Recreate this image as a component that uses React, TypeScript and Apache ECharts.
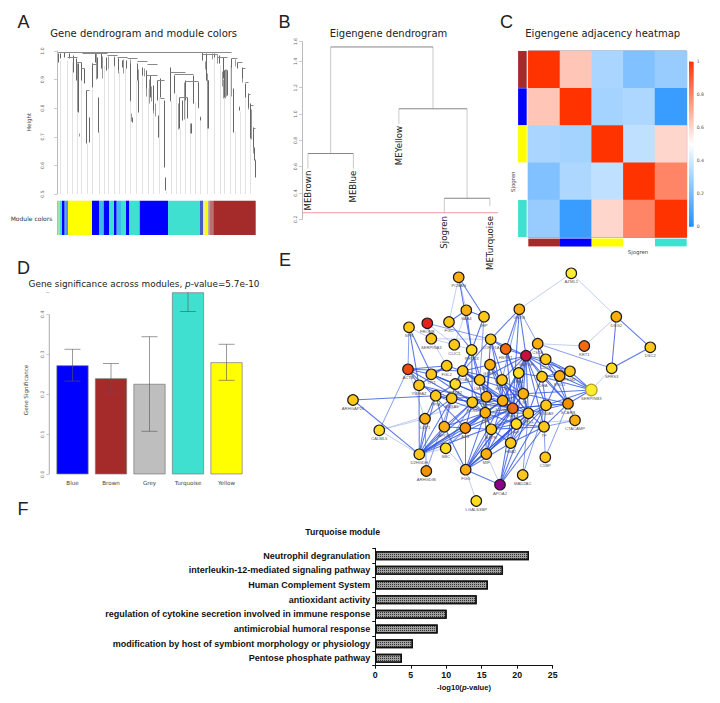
import React, { useEffect, useRef } from "react";
import * as echarts from "echarts";

// ---------- Panel A ----------
const heightTicks = [0.5, 1.0];
const geneStems = [
  [1,.992,.963],[3,.994,.974],[7,.995,.98],[12,.994,.974],[16,.986,.928],[19,.974,.899],[21,.957,.788],[24,.963,.899],
  [27,.939,.887],[29,.864,.677],[32,.77,.683],[35,.957,.875],[38,.992,.963],[40,.98,.904],[41,.84,.718],[44,.992,.939],
  [49,.98,.934],[57,.98,.951],[61,.974,.934],[65,.969,.945],[69,.969,.939],[73,.957,.829],[80,.957,.899],[81,.899,.788],
  [75,.77,.753],[85,.945,.916],[89,.934,.869],[93,.916,.84],[96,.881,.794],[100,.899,.829],[101,.776,.7],[103,.904,.84],
  [107,.829,.596],[108,.561,.514],[113,.945,.829],[117,.916,.852],[122,.84,.73],[125,.829,.759],[128,.899,.829],[130,.84,.765],
  [134,.747,.712],[136,.916,.817],[141,.893,.805],[143,.77,.759],[145,.998,.969],[149,.992,.899],[151,.899,.73],[157,.994,.98],
  [162,.986,.957],[166,.98,.904],[167,.934,.84],[170,.934,.846],[174,.974,.945],[176,.869,.718],[182,.805,.794],[180,.963,.939],
  [185,.945,.904],[188,.887,.84],[191,.852,.805],[193,.817,.695],[196,.735,.666],[197,.666,.619],[198,.619,.561],
];
const geneStemsFine = [
  [35,.959,.919],[39,.994,.901],[45,.983,.907],[51,.983,.942],[57,.983,.948],[61,.977,.924],[66,.971,.924],[73,.971,.825],
  [81,.936,.79],[74,.784,.755],[87,.942,.913],[89,.884,.843],[92,.901,.819],[94,.878,.825],[96,.802,.784],[98,.819,.773],
  [22,.714,.703],[20,.959,.79],[113,.913,.825],[121,.819,.726],[127,.89,.761],[133,.749,.714],[136,.913,.819],[141,.89,.802],
  [143,.773,.761],[148,.965,.936],[150,.924,.732],[145,.994,.971],[155,.994,.971],[160,.988,.959],[165,.93,.878],[168,.936,.837],
  [169,.936,.843],[166,.901,.837],[174,.971,.843],[176,.854,.726],[178,.971,.948],[182,.808,.796],[185,.924,.89],[188,.878,.843],
  [191,.843,.796],[194,.796,.691],[196,.703,.645],[198,.621,.563],
];
const geneMerges = [
  [1,145,.998],[145,174,.995],[1,25,.995],[25,50,.992],[50,60,.986],[60,70,.98],[70,80,.974],[80,90,.965],[90,100,.955],
  [174,180,.975],[180,185,.96],[185,188,.94],[188,191,.89],[191,193,.85],[193,196,.81],[196,198,.73],[19,24,.96],[24,27,.94],
  [29,32,.865],[89,100,.915],[100,107,.9],[103,107,.835],[113,128,.925],[117,136,.918],[128,141,.895],[122,130,.84],
  [166,170,.934],[149,151,.9],[35,40,.955],[10,20,.98],[145,160,.988],[160,170,.98],
];
const geneGuides = [
  [3,.97],[10,.97],[15,.96],[20,.9],[24,.9],[30,.68],[35,.87],[42,.72],[47,.95],[51,.95],[57,.95],[62,.93],[68,.94],[73,.83],
  [79,.9],[85,.92],[91,.87],[96,.8],[102,.84],[109,.51],[114,.83],[119,.85],[123,.73],[128,.83],[133,.71],[138,.82],[143,.76],
  [150,.9],[157,.98],[163,.95],[167,.84],[173,.95],[178,.72],[183,.79],[188,.84],[193,.7],
];
const moduleStarts = [0,1.7,3,5,7.7,9.7,10.7,35,42,46.7,52,57,59.7,64,69,72,82.7,111,143,146,147.7,151,152.3,156.3];
const moduleEnds = [1.7,3,5,7.7,9.7,10.7,35,42,46.7,52,57,59.7,64,69,72,82.7,111,143,146,147.7,151,152.3,156.3,198.7];
const moduleNames = ["lightgreen","olive","turquoise","blue","sky","blue","yellow","blue","sky","blue","turquoise","blue","sky","turquoise","blue","turquoise","blue","turquoise","slate","pale","yellow","grey","mauve","brown"];
const moduleColorMap: Record<string, string> = {
  lightgreen: "#7FD8A8", olive: "#C8D870", turquoise: "#40E0D0", blue: "#0000FF", sky: "#3CBCE8", yellow: "#FFFF00",
  slate: "#4A5CC8", pale: "#E8E0B0", grey: "#B8B0A8", mauve: "#B87070", brown: "#A52A2A",
};

// ---------- Panel B ----------
const eigenLeaves = ["MEBrown", "MEBlue", "MEYellow", "Sjogren", "METurquoise"];
const eigenLeafX = [1, 2, 3, 4, 5];
const eigenLeafBottom = [0.585, 0.585, 0.925, 0.24, 0.24];
const eigenMerges = [[1, 2, 0.7], [4, 5, 0.36], [3, 4.5, 1.04], [1.5, 3.75, 1.51]];
const eigenStems = [[1, .7, .585], [2, .7, .585], [4, .36, .25], [5, .36, .3], [3, 1.04, .925], [4.5, 1.04, .36], [1.5, 1.51, .7], [3.75, 1.51, 1.04]];
const cutHeight = 0.25;

// ---------- Panel C ----------
const adjacencyRows = [
  [1.0, 0.64, 0.31, 0.22, 0.27],
  [0.64, 1.0, 0.30, 0.32, 0.06],
  [0.31, 0.30, 1.0, 0.36, 0.60],
  [0.22, 0.32, 0.36, 1.0, 0.80],
  [0.27, 0.06, 0.60, 0.80, 1.0],
];
const adjacencyCats = ["Brown", "Blue", "Yellow", "Sjogren", "Turquoise"];
const adjacencyStrip = ["#A52A2A", "#0000FF", "#FFFF00", "#FFFFFF", "#40E0D0"];

// ---------- Panel D ----------
const sigModules = ["Blue", "Brown", "Grey", "Turquoise", "Yellow"];
const sigValues = [0.2725, 0.24, 0.226, 0.47, 0.28];
const sigLow = [0.233, 0.2025, 0.1075, 0.407, 0.235];
const sigHigh = [0.3125, 0.277, 0.344, 0.533, 0.325];
const sigColors = ["#0000FF", "#A52A2A", "#BEBEBE", "#40E0D0", "#FFFF00"];

// ---------- Panel E ----------
const nodeNames = ["PCBAN","SAA4","IHP","FGC","SPN","FRONB","SERPINA3","CLIC1","PRTN3","CORO1A","HSPB1","GAPDH","GSTB","FGL2","APOA1","GSTP1","LRG1","ACTB","TPI1","LMNA","KRT10","YWHAZ","ANXA2","AZML1","DSG2","DSC2","SFRS3","KRT1","CSTA","CD59","PKM2","ENO1","LDHA","SERPINB3","ARHGAP26","CALML5","D2HGDH","ARHGDIB","SBC","LCP1","APOE","ALB","ACTR","PPIA","ANXA5","FCN1","CAP1","LTF","S100A8","PFN1","LYZ","CFL1","HP","S100A9","SCARB","CTACAMP","TF","C1BP","MAD2AC","HBA2","MIF","FGG","APOA2","LGALS3BP"];
const nodeX = [458.7,466.3,484,449,409,427.3,431.3,454.3,471.7,490.7,505.7,526,519.3,446.7,462.7,490,518.7,408,431.3,479.7,502,419,455.3,571.3,616.3,650.3,611.7,584.3,537.7,545.7,570,559.7,542,591.3,353,379.3,419.3,426.3,445.7,425,444.3,465.3,491.3,435.7,451.7,472.3,486.3,485.3,502.7,512.7,523.3,528.3,516.3,546,568,575,544,545.3,522.7,510.7,486.3,465.7,500,476.3];
const nodeY = [277.3,310.3,316.7,322,327.3,323.3,338.7,344.7,350,339.3,349,355.7,309.3,365.7,371,364.7,373,369.3,374.3,380,380,385.3,384,273.3,316.7,347.3,368.3,346,343.7,359.3,371.3,376,376.7,390,400,430.3,454.3,471,448.3,418.7,426.7,428,429.3,395.7,398.3,402.3,396.7,412.7,400.7,408.3,393.7,413.3,424,405.3,403.7,420.3,426.7,457.3,475,443,454,469.7,484.7,501];
const nodeScore = [.35,.38,.25,.3,.3,.8,.33,.3,.22,.3,.55,.9,.38,.3,.28,.42,.22,.65,.28,.3,.3,.3,.22,.1,.42,.25,.22,.55,.38,.3,.3,.4,.3,.1,.25,.22,.25,.45,.22,.35,.42,.45,.3,.3,.33,.3,.38,.42,.35,.62,.4,.28,.2,.3,.45,.4,.25,.3,.25,.33,.38,.38,1,.18];
const strongEdges = "PCBAN-PRTN3 PCBAN-IHP SAA4-IHP SAA4-PRTN3 IHP-PRTN3 SPN-YWHAZ SPN-TPI1 FGC-PRTN3 SAA4-FGC CORO1A-GSTB CORO1A-APOA1 CORO1A-GAPDH CORO1A-HSPB1 GSTB-HSPB1 GSTB-GAPDH HSPB1-GAPDH PRTN3-APOA1 PRTN3-ANXA2 FGL2-APOA1 FGL2-TPI1 FGL2-ACTB FGL2-YWHAZ APOA1-GSTP1 APOA1-LMNA APOA1-KRT10 APOA1-ANXA2 ACTB-TPI1 ACTB-YWHAZ TPI1-ANXA2 GAPDH-LRG1 GAPDH-KRT10 GAPDH-GSTP1 GAPDH-LMNA GAPDH-CD59 GAPDH-CSTA GAPDH-LDHA GAPDH-ENO1 GAPDH-S100A8 GAPDH-PFN1 GAPDH-LYZ GAPDH-CFL1 GAPDH-S100A9 CSTA-CD59 CSTA-LDHA CD59-ENO1 CD59-PKM2 PKM2-ENO1 ENO1-LDHA PKM2-LDHA LRG1-LDHA LRG1-S100A8 LMNA-LYZ KRT10-LYZ KRT10-PFN1 GSTP1-CAP1 GSTP1-LTF GSTP1-S100A8 SERPINB3-PKM2 SERPINB3-ENO1 SERPINB3-SCARB SERPINB3-S100A9 SERPINB3-LYZ SERPINB3-LDHA SCARB-S100A9 SCARB-LYZ SCARB-CFL1 SCARB-TF SCARB-PFN1 S100A9-CFL1 S100A9-PFN1 S100A9-TF CFL1-TF CFL1-PFN1 CFL1-LYZ ARHGAP26-PPIA ARHGAP26-D2HGDH D2HGDH-LCP1 D2HGDH-APOE D2HGDH-ALB D2HGDH-ANXA5 D2HGDH-PPIA D2HGDH-FCN1 D2HGDH-CAP1 D2HGDH-LTF D2HGDH-YWHAZ FGG-ALB FGG-LTF FGG-PFN1 FGG-S100A8 FGG-HBA2 FGG-HP FGG-ACTR FGG-APOA2 FGG-CFL1 FGG-APOE APOA2-HBA2 APOA2-PFN1 APOA2-CFL1 APOA2-TF MIF-LTF MIF-PFN1 MIF-ACTR ALB-LTF ALB-ACTR ALB-FCN1 ALB-PFN1 ALB-S100A8 ALB-APOE APOE-FCN1 APOE-ANXA5 APOE-PPIA APOE-LTF LTF-S100A8 LTF-PFN1 LTF-CAP1 LTF-FCN1 LTF-CFL1 LTF-HP LTF-ACTR FCN1-CAP1 FCN1-S100A8 FCN1-PFN1 ANXA5-PPIA ANXA5-FCN1 ANXA5-CAP1 PPIA-FCN1 PPIA-LTF CAP1-S100A8 CAP1-PFN1 CAP1-LYZ S100A8-PFN1 S100A8-LYZ PFN1-LYZ PFN1-CFL1 PFN1-HP PFN1-HBA2 HP-HBA2 HP-CFL1 HP-TF ACTR-HBA2 ACTR-PFN1 ACTR-HP DSG2-DSC2 DSG2-SFRS3 DSC2-SFRS3 LCP1-PPIA LCP1-ANXA5 ANXA2-ANXA5 ANXA2-PPIA ANXA2-LMNA LMNA-CAP1 LMNA-S100A8 KRT10-S100A8 LRG1-LYZ D2HGDH-PFN1 D2HGDH-S100A8 D2HGDH-CFL1 FGG-LYZ FGG-S100A9 APOA2-S100A9 APOA1-PFN1 APOA1-CFL1 APOA1-LTF APOA1-S100A8 ACTB-APOA1 ACTB-LTF ACTB-ALB YWHAZ-ANXA5 YWHAZ-PFN1 TPI1-FCN1 TPI1-CAP1 TPI1-PFN1 GSTP1-PFN1 GSTP1-CFL1 PRTN3-LTF PRTN3-FCN1 PRTN3-CAP1 CORO1A-LTF CORO1A-PFN1 CORO1A-S100A8 GSTB-PFN1 HSPB1-PFN1 HSPB1-LYZ HSPB1-CFL1 GAPDH-HP GAPDH-SCARB GAPDH-TF GAPDH-PKM2 ENO1-S100A9 ENO1-SCARB LDHA-S100A9 LDHA-CFL1 LDHA-SCARB CD59-SERPINB3 CD59-SCARB KRT10-CFL1 LRG1-CFL1 LRG1-PFN1 HBA2-CFL1 HBA2-TF HBA2-S100A9 MIF-CFL1 MIF-S100A8 MIF-HP ACTR-CFL1 ACTR-TF ACTR-LTF".split(" ");
const mediumEdges = "FRONB-CORO1A FRONB-SERPINA3 CSTA-SFRS3 C1BP-SCARB C1BP-TF MAD2AC-S100A9 MAD2AC-CFL1 CALML5-ACTB CTACAMP-TF CTACAMP-SCARB SBC-LTF SBC-ALB SBC-FCN1 ARHGDIB-LCP1 ARHGDIB-ANXA5 CSTA-GSTB GSTB-KRT10 SPN-ACTB IHP-LMNA".split(" ");
const lightEdges = "AZML1-GSTB AZML1-DSG2 DSG2-KRT1 CSTA-KRT1 SFRS3-SERPINB3 CALML5-D2HGDH CALML5-LCP1 CALML5-FCN1 APOA2-MIF LGALS3BP-FGG SPN-SERPINA3 PCBAN-FGC SAA4-CLIC1 CLIC1-PRTN3 CLIC1-FRONB SERPINA3-CLIC1 SERPINA3-FGL2 SERPINA3-CORO1A SBC-D2HGDH ACTB-LCP1 PCBAN-SAA4 SBC-FGG CTACAMP-HP".split(" ");

// ---------- Panel F ----------
const pathwayNames = ["Neutrophil degranulation","interleukin-12-mediated signaling pathway","Human Complement System","antioxidant activity","regulation of cytokine secretion involved in immune response","antimicrobial humoral response","modification by host of symbiont morphology or physiology","Pentose phosphate pathway"];
const pathwayValues = [21.66, 18.0, 15.88, 14.29, 10.06, 8.79, 5.31, 3.76];

// ---------- helpers ----------
const FONT = "DejaVu Sans";
const ARIAL = "Liberation Sans";

function scoreColor(s: number) {
  const stops: [number, string][] = [[0.1,"#FFEE30"],[0.2,"#FFDC20"],[0.3,"#FFC818"],[0.4,"#FBAE10"],[0.5,"#F59000"],[0.6,"#F06A10"],[0.7,"#EE4A10"],[0.8,"#E8201A"],[0.9,"#C8103E"],[1,"#8B008B"]];
  for (const [t, c] of stops) if (s <= t + 0.049) return c;
  return "#8B008B";
}

function segmentSeries(name: string, axis: number, segs: number[][], stroke: string, lineWidth: number, opacity = 1, z = 3, snap = false) {
  const px = (v: number) => (snap ? Math.round(v) + 0.5 : v);
  return {
    type: "custom", name, xAxisIndex: axis, yAxisIndex: axis, silent: true, z, clip: true,
    encode: { x: [0, 2], y: [1, 3] },
    data: segs,
    renderItem: (_: any, api: any) => {
      const a = api.coord([api.value(0), api.value(1)]);
      const b = api.coord([api.value(2), api.value(3)]);
      return { type: "line", shape: { x1: px(a[0]), y1: px(a[1]), x2: px(b[0]), y2: px(b[1]) }, style: { stroke, lineWidth, opacity, fill: null } };
    },
  };
}

function text(t: string, x: number, y: number, fontSize: number, o: any = {}) {
  const { rotation, ...style } = o;
  return {
    type: "text", x, y, rotation: rotation || 0, silent: true, z: 50,
    style: { text: t, fontSize, fontFamily: FONT, fill: "#222", align: "center", verticalAlign: "middle", ...style },
  };
}

const hiddenValue = (gridIndex: number, min: number, max: number, extra: any = {}) => ({
  type: "value", gridIndex, min, max, show: false, ...extra,
});

function rotatedY(gridIndex: number, min: number, max: number, interval: number, offset: number, o: any = {}) {
  return {
    type: "value", gridIndex, min, max, interval, offset,
    axisLine: { show: true, lineStyle: { color: "#aaa", width: 0.8 } },
    axisTick: { show: true, length: 3, lineStyle: { color: "#aaa", width: 0.6 } },
    axisLabel: { fontSize: 4.6, color: "#666", rotate: 90, margin: 4, fontFamily: FONT, formatter: (v: number) => v.toFixed(1) },
    splitLine: { show: false },
    ...o,
  };
}

function buildOption() {
  const stemsA = geneStems.map(([x, t, b]) => [x, t, x, b]);
  const fineA = geneStemsFine.map(([x, t, b]) => [x, t, x, b]);
  const mergesA = geneMerges.map(([a, b, h]) => [a, h, b, h]);
  const guidesA = geneGuides.map(([x, t]) => [x, t, x, heightTicks[0]]);
  const mergesB = eigenMerges.map(([a, b, h]) => [a, h, b, h]);
  const stemsB = eigenStems.map(([x, t, b]) => [x, t, x, b]);

  const heatData: number[][] = [];
  adjacencyRows.forEach((row, r) => row.forEach((v, c) => heatData.push([c, r, v])));

  const nodeIndex = new Map(nodeNames.map((n, i) => [n, i]));
  const link = (pair: string, color: string, width: number, opacity: number) => {
    const [s, t] = pair.split("-");
    return { source: nodeIndex.get(s), target: nodeIndex.get(t), lineStyle: { color, width, opacity } };
  };
  const links = [
    ...lightEdges.map((p) => link(p, "#B4C2EE", 0.9, 0.9)),
    ...mediumEdges.map((p) => link(p, "#5F7FE6", 0.9, 0.85)),
    ...strongEdges.map((p) => link(p, "#2F55E2", 1.05, 0.8)),
  ];

  const series: any[] = [
    // A
    segmentSeries("guidesA", 0, guidesA, "#e2e2e2", 1, 1, 1, true),
    segmentSeries("stemsFineA", 0, fineA, "#999", 1, 1, 3, true),
    segmentSeries("stemsA", 0, stemsA, "#666", 1, 1, 3, true),
    segmentSeries("mergesA", 0, mergesA, "#888", 1, 1, 3, true),
    {
      type: "custom", name: "moduleStrip", xAxisIndex: 1, yAxisIndex: 1, silent: true,
      encode: { x: [0, 1], y: 2 },
      data: moduleStarts.map((s, i) => [s, moduleEnds[i], 1]),
      renderItem: (p: any, api: any) => {
        const a = api.coord([api.value(0), 1]);
        const b = api.coord([api.value(1), 0]);
        return { type: "rect", shape: { x: a[0], y: a[1], width: b[0] - a[0], height: b[1] - a[1] }, style: { fill: moduleColorMap[moduleNames[p.dataIndex]] } };
      },
    },
    // B
    segmentSeries("stemsB", 2, stemsB, "#bdbdbd", 0.8),
    segmentSeries("mergesB", 2, mergesB, "#777", 0.9),
    segmentSeries("cut", 2, [[0.87, cutHeight, 5.18, cutHeight]], "#F09090", 0.9, 1, 4),
    {
      type: "custom", name: "leaves", xAxisIndex: 2, yAxisIndex: 2, silent: true, clip: false, z: 6,
      encode: { x: 0, y: 1 },
      data: eigenLeafX.map((x, i) => [x, eigenLeafBottom[i]]),
      renderItem: (p: any, api: any) => {
        const a = api.coord([api.value(0), api.value(1)]);
        return {
          type: "text", x: a[0], y: a[1] + 2, rotation: Math.PI / 2,
          style: { text: eigenLeaves[p.dataIndex], fontFamily: FONT, fontSize: 8.6, fill: "#222", align: "right", verticalAlign: "middle" },
        };
      },
    },
    // C
    {
      type: "heatmap", name: "adjacency", xAxisIndex: 3, yAxisIndex: 3, data: heatData, silent: true,
      label: { show: false }, itemStyle: { borderWidth: 0 }, progressive: 0,
    },
    {
      type: "custom", name: "sideColors", xAxisIndex: 3, yAxisIndex: 3, silent: true, clip: false,
      encode: { x: 0, y: 1 },
      data: adjacencyStrip.map((_, i) => [i, i]),
      renderItem: (p: any, api: any) => {
        const c = api.coord([api.value(0), api.value(1)]);
        const s = api.size([1, 1]);
        const fill = adjacencyStrip[p.dataIndex];
        const bottom = api.coord([api.value(0), 4])[1] + s[1] / 2;
        const left = api.coord([0, api.value(1)])[0] - s[0] / 2;
        return {
          type: "group",
          children: [
            { type: "rect", shape: { x: left - 10.2, y: c[1] - s[1] / 2, width: 8.6, height: s[1] - 0.3 }, style: { fill } },
            { type: "rect", shape: { x: c[0] - s[0] / 2, y: bottom + 1.3, width: s[0], height: 7.8 }, style: { fill } },
          ],
        };
      },
    },
    {
      type: "custom", name: "colorBar", xAxisIndex: 4, yAxisIndex: 4, silent: true,
      encode: { x: 0, y: 1 },
      data: [[0, 1]],
      renderItem: (_: any, api: any) => {
        const a = api.coord([0, 1]);
        const b = api.coord([1, 0]);
        return {
          type: "rect", shape: { x: a[0], y: a[1], width: b[0] - a[0], height: b[1] - a[1] },
          style: { fill: new echarts.graphic.LinearGradient(0, 1, 0, 0, [
            { offset: 0, color: "#1E90FF" }, { offset: 0.5, color: "#FFFFFF" }, { offset: 1, color: "#FF3300" },
          ]) },
        };
      },
    },
    // D
    {
      type: "bar", name: "significance", xAxisIndex: 5, yAxisIndex: 5, barWidth: 32, silent: true, z: 2,
      data: sigValues.map((v, i) => ({ value: v, itemStyle: { color: sigColors[i], borderColor: "#777", borderWidth: 0.7 } })),
    },
    {
      type: "custom", name: "errorBars", xAxisIndex: 5, yAxisIndex: 5, silent: true, z: 5,
      encode: { x: 0, y: [1, 2] },
      data: sigLow.map((l, i) => [i, l, sigHigh[i]]),
      renderItem: (_: any, api: any) => {
        const lo = api.coord([api.value(0), api.value(1)]);
        const hi = api.coord([api.value(0), api.value(2)]);
        const area = _.coordSys;
        const top = Math.max(hi[1], area.y);
        const st = { stroke: "#555", lineWidth: 0.7, opacity: 0.85 };
        const kids: any[] = [
          { type: "line", shape: { x1: lo[0], y1: lo[1], x2: lo[0], y2: top }, style: st },
          { type: "line", shape: { x1: lo[0] - 8, y1: lo[1], x2: lo[0] + 8, y2: lo[1] }, style: st },
        ];
        if (hi[1] >= area.y) kids.push({ type: "line", shape: { x1: hi[0] - 8, y1: hi[1], x2: hi[0] + 8, y2: hi[1] }, style: st });
        return { type: "group", children: kids };
      },
    },
    // E
    {
      type: "graph", name: "network", coordinateSystem: "cartesian2d", xAxisIndex: 6, yAxisIndex: 6, silent: true, z: 3,
      layout: "none", roam: false,
      data: nodeNames.map((n, i) => ({
        name: n, value: [nodeX[i], nodeY[i]],
        symbolSize: n === "SERPINB3" ? 11.5 : 10.5,
        itemStyle: { color: scoreColor(nodeScore[i]), borderColor: n === "SERPINB3" ? "#B0A020" : "#1c1c1c", borderWidth: 1.2, opacity: 1 },
      })),
      links,
      label: { show: true, position: "bottom", distance: 0.5, fontSize: 4.2, color: "#555", fontFamily: ARIAL },
      labelLayout: { hideOverlap: false },
      edgeSymbol: ["none", "none"],
    },
    // F
    {
      type: "bar", name: "pathways", xAxisIndex: 7, yAxisIndex: 7, barWidth: 9, silent: true,
      data: pathwayValues,
      itemStyle: {
        color: "#a0a0a0", borderColor: "#111", borderWidth: 1.4,
        decal: { symbol: "rect", symbolSize: 1, dashArrayX: [1, 1], dashArrayY: [1, 1], color: "#333", rotation: 0 },
      },
    },
  ];

  const adjIdx = series.findIndex((s) => s.name === "adjacency");

  return {
    animation: false,
    backgroundColor: "#fff",
    textStyle: { fontFamily: FONT },
    grid: [
      { left: 57, top: 51, width: 199, height: 143 },
      { left: 57, top: 200.7, width: 199, height: 34.3 },
      { left: 302, top: 41.7, width: 196, height: 177.6 },
      { left: 528.3, top: 51, width: 158.4, height: 186.3, show: true, borderColor: "#55688a", borderWidth: 0.8, backgroundColor: "transparent" },
      { left: 689, top: 61.7, width: 4.7, height: 165 },
      { left: 53.25, top: 292.7, width: 192.5, height: 181.6 },
      { left: 330, top: 260, width: 360, height: 260 },
      { left: 375.3, top: 548.3, width: 177.4, height: 117.4 },
    ],
    xAxis: [
      hiddenValue(0, 0, 199),
      hiddenValue(1, 0, 199),
      hiddenValue(2, 0.87, 5.18),
      { type: "category", gridIndex: 3, data: adjacencyCats, show: false },
      hiddenValue(4, 0, 1),
      {
        type: "category", gridIndex: 5, data: sigModules,
        axisLine: { show: false }, axisTick: { show: false },
        axisLabel: { fontSize: 5.6, color: "#444", margin: 6, fontFamily: FONT, interval: 0 },
      },
      hiddenValue(6, 330, 690),
      {
        type: "value", gridIndex: 7, min: 0, max: 25, interval: 5,
        axisLine: { show: true, lineStyle: { color: "#111", width: 1 } },
        axisTick: { show: true, length: 3, lineStyle: { color: "#111", width: 1 } },
        axisLabel: { fontSize: 8.8, fontWeight: "bold", color: "#111", margin: 5, fontFamily: ARIAL },
        splitLine: { show: false },
      },
    ],
    yAxis: [
      rotatedY(0, 0.5, 1.0, 0.1, 8),
      hiddenValue(1, 0, 1),
      rotatedY(2, 0.2, 1.55, 0.2, 0),
      { type: "category", gridIndex: 3, data: adjacencyCats, inverse: true, show: false },
      {
        type: "value", gridIndex: 4, min: 0, max: 1, interval: 0.2, position: "right",
        axisLine: { show: false },
        axisTick: { show: true, length: 2.5, lineStyle: { color: "#999", width: 0.5 } },
        axisLabel: { fontSize: 4.6, color: "#555", margin: 3, fontFamily: FONT },
        splitLine: { show: false },
      },
      rotatedY(5, 0, 0.454, 0.1, 4, {
        axisLine: { show: false },
        axisLabel: { fontSize: 4.6, color: "#666", rotate: 90, margin: 4, fontFamily: FONT, formatter: (v: number) => (v > 0.41 ? "" : v.toFixed(1)) },
      }),
      hiddenValue(6, 260, 520, { inverse: true }),
      {
        type: "category", gridIndex: 7, data: pathwayNames, inverse: true,
        axisLine: { show: true, lineStyle: { color: "#111", width: 1 } },
        axisTick: { show: true, length: 3, lineStyle: { color: "#111", width: 1 } },
        axisLabel: { fontSize: 9, fontWeight: "bold", color: "#111", margin: 5, fontFamily: ARIAL, interval: 0 },
      },
    ],
    visualMap: [{
      show: false, min: 0, max: 1, seriesIndex: adjIdx, dimension: 2,
      inRange: { color: ["#1E90FF", "#FFFFFF", "#FF3300"] },
    }],
    series,
    graphic: {
      elements: [
        text("A", 23.5, 22, 18, { fontFamily: ARIAL }),
        text("B", 284.5, 22, 18, { fontFamily: ARIAL }),
        text("C", 506.5, 22, 18, { fontFamily: ARIAL }),
        text("D", 23.5, 268, 18, { fontFamily: ARIAL }),
        text("E", 285, 260, 18, { fontFamily: ARIAL }),
        text("F", 23, 509, 18, { fontFamily: ARIAL }),
        text("Gene dendrogram and module colors", 143.7, 33, 10),
        text("Eigengene dendrogram", 388.5, 33, 10),
        text("Eigengene adjacency heatmap", 602.7, 33, 10),
        text("Height", 29, 122, 5.6, { rotation: Math.PI / 2, fill: "#444" }),
        text("Module colors", 31.5, 218.5, 6, { fill: "#333" }),
        text("Sjogren", 512.7, 181.7, 5.4, { rotation: Math.PI / 2, fill: "#444" }),
        text("Sjogren", 638, 251.7, 5.4, { fill: "#444" }),
        text("{n|Gene significance across modules, }{i|p}{n|-value=5.7e-10}", 144, 283.5, 9, {
          rich: {
            n: { fontSize: 8.9, fontFamily: FONT, fill: "#222" },
            i: { fontSize: 8.9, fontFamily: FONT, fontStyle: "italic", fill: "#222" },
          },
        }),
        text("Gene Significance", 25.7, 390, 5.6, { rotation: Math.PI / 2, fill: "#444" }),
        { type: "line", silent: true, z: 40, shape: { x1: 49.3, y1: 314.7, x2: 49.3, y2: 474.3 }, style: { stroke: "#aaa", lineWidth: 1 } },
        text("Turquoise module", 342.7, 531.5, 8.7, { fontFamily: ARIAL, fontWeight: "bold", fill: "#111" }),
        text("{n|-log10(}{i|p}{n|-value)}", 464, 687.7, 7.6, {
          rich: {
            n: { fontSize: 7.6, fontFamily: ARIAL, fontWeight: "bold", fill: "#111" },
            i: { fontSize: 7.6, fontFamily: ARIAL, fontWeight: "bold", fontStyle: "italic", fill: "#111" },
          },
        }),
      ],
    },
  };
}

export default function App() {
  const ref = useRef<HTMLDivElement>(null);
  useEffect(() => {
    document.body.style.margin = "0";
    const chart = echarts.init(ref.current!, undefined, { renderer: "svg" });
    chart.setOption(buildOption() as any);
    return () => chart.dispose();
  }, []);
  return <div ref={ref} style={{ width: 720, height: 703 }} />;
}
